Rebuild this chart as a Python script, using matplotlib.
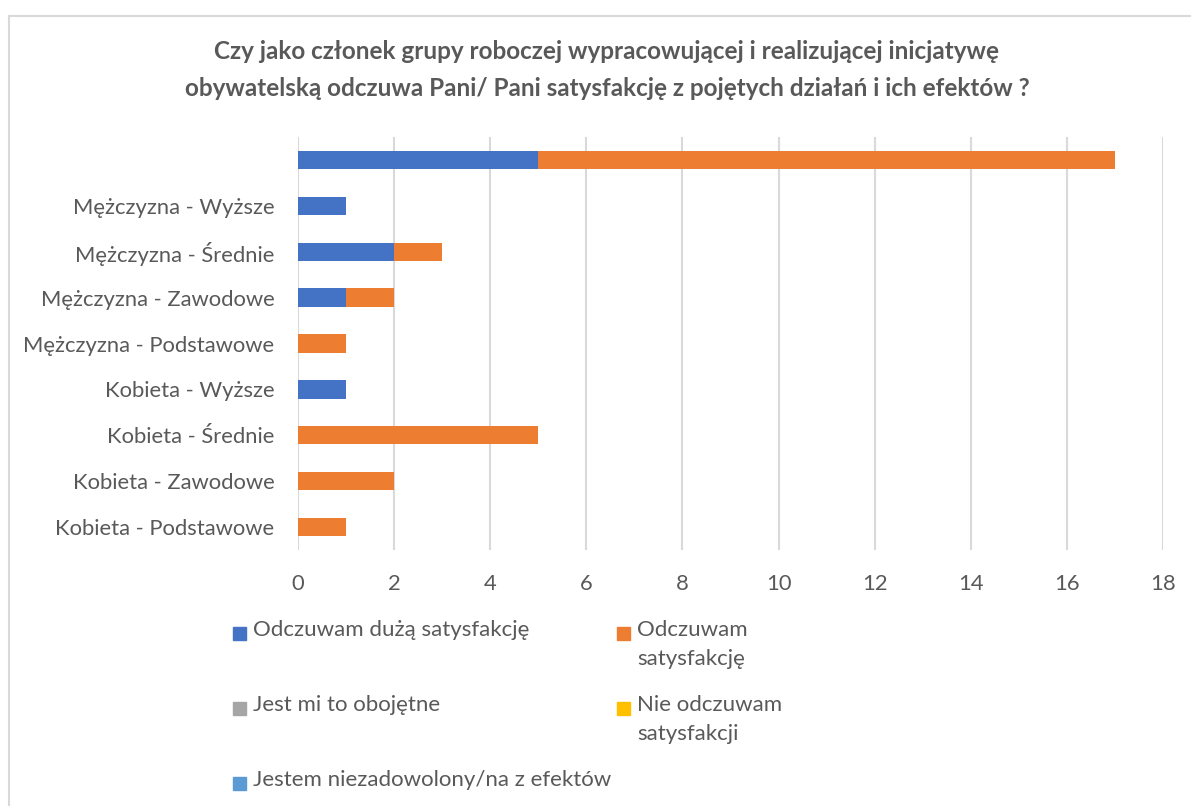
import matplotlib
matplotlib.use("Agg")
import matplotlib.pyplot as plt
from matplotlib.patches import Rectangle
from matplotlib.lines import Line2D

plt.rcParams['font.family'] = ['Lato', 'DejaVu Sans']

categories = ["Kobieta - Podstawowe", "Kobieta - Zawodowe", "Kobieta - Średnie",
              "Kobieta - Wyższe", "Mężczyzna - Podstawowe", "Mężczyzna - Zawodowe",
              "Mężczyzna - Średnie", "Mężczyzna - Wyższe", ""]
series_names = ["Odczuwam dużą satysfakcję", "Odczuwam\nsatysfakcję",
                "Jest mi to obojętne", "Nie odczuwam\nsatysfakcji",
                "Jestem niezadowolony/na z efektów"]
duza = [0, 0, 0, 1, 0, 1, 2, 1, 5]
satysfakcja = [1, 2, 5, 0, 1, 1, 1, 0, 12]
obojetne = [0, 0, 0, 0, 0, 0, 0, 0, 0]
nie = [0, 0, 0, 0, 0, 0, 0, 0, 0]
niezadowolony = [0, 0, 0, 0, 0, 0, 0, 0, 0]
series = [duza, satysfakcja, obojetne, nie, niezadowolony]
colors = ["#4472C4", "#ED7D31", "#A5A5A5", "#FFC000", "#5B9BD5"]
xticks = list(range(0, 19, 2))

W, H = 1191, 806
fig = plt.figure(figsize=(W / 100, H / 100), dpi=100)
txt = "#595959"

# outer chart border
fig.add_artist(Line2D([8.5 / W, 1.0], [1 - 15.5 / H] * 2, color="#D9D9D9", lw=1.5))
fig.add_artist(Line2D([8.5 / W] * 2, [0, 1 - 15.5 / H], color="#D9D9D9", lw=1.5))

ax = fig.add_axes([298 / W, 1 - 550 / H, (1163 - 298) / W, (550 - 137) / H])
y = range(len(categories))
left = [0] * len(categories)
for vals, col, name in zip(series, colors, series_names):
    ax.barh(y, vals, left=left, height=0.4, color=col, label=name, zorder=3)
    left = [a + b for a, b in zip(left, vals)]

ax.set_xlim(0, 18)
ax.set_ylim(-0.5, len(categories) - 0.5)
ax.set_xticks(xticks)
ax.set_yticks(list(y))
ax.set_yticklabels(categories)
ax.tick_params(length=0, labelsize=15.8, colors=txt)
ax.tick_params(axis='x', pad=17)
ax.tick_params(axis='y', pad=17)
ax.grid(axis='x', color="#D9D9D9", lw=1.5, zorder=0)
for s in ax.spines.values():
    s.set_visible(False)

fig.text(607 / W, 1 - 70 / H, "Czy jako członek grupy roboczej wypracowującej i realizującej inicjatywę\n"
         "obywatelską odczuwa Pani/ Pani satysfakcję z pojętych działań i ich efektów ?",
         ha="center", va="center", fontsize=17.5, fontweight="bold", color=txt,
         linespacing=1.7)

# legend, two columns
pos = [(233, 633), (617, 633), (233, 708), (617, 708), (233, 783)]
for (px, py), name, col in zip(pos, series_names, colors):
    fig.add_artist(Rectangle((px / W, 1 - (py + 7) / H), 13 / W, 13 / H, color=col))
    fig.text((px + 20) / W, 1 - (py - 13) / H, name, ha="left", va="top",
             fontsize=16, color=txt, linespacing=1.55)

fig.savefig("out.png", dpi=100, facecolor="white")
